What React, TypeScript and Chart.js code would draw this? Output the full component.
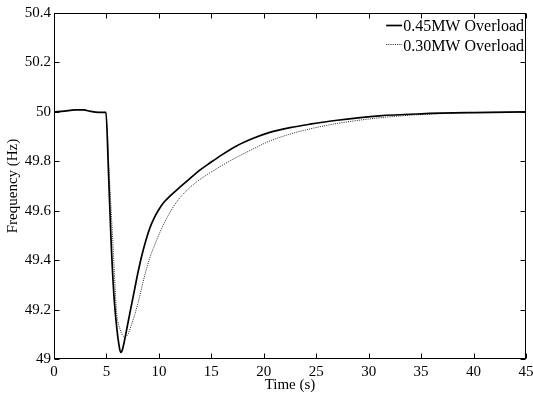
import React, { useEffect, useRef } from "react";
import { Chart, registerables } from "chart.js";

Chart.register(...registerables);

// ---- data ----
const t45 = [0, 1, 2, 2.8, 3.5, 4.2, 4.95, 5.2, 5.43, 5.71, 6.0, 6.2, 6.35, 6.5, 6.7, 7.0, 7.3, 7.7, 8.03, 8.5, 9.14, 9.6, 10.0, 10.5, 11.0, 12.0, 12.95, 14.0, 14.86, 16.0, 17.4, 19.0, 20.57, 22.5, 24.4, 27.0, 31.0, 35.0, 40.0, 45.0];
const f45 = [50.0, 50.003, 50.008, 50.008, 50.002, 49.998, 49.998, 49.75, 49.49, 49.26, 49.12, 49.055, 49.027, 49.035, 49.07, 49.135, 49.2, 49.285, 49.355, 49.44, 49.53, 49.575, 49.605, 49.635, 49.657, 49.695, 49.73, 49.767, 49.793, 49.826, 49.862, 49.893, 49.917, 49.936, 49.95, 49.966, 49.984, 49.992, 49.997, 50.0];

const t30 = [0, 1, 2, 2.8, 3.5, 4.2, 4.95, 5.25, 5.59, 5.97, 6.3, 6.55, 6.8, 7.05, 7.4, 7.7, 8.03, 8.6, 9.14, 9.78, 10.1, 10.8, 11.68, 12.8, 13.9, 15.5, 17.05, 18.8, 20.57, 22.5, 24.4, 27.0, 31.05, 35.0, 40.0, 45.0];
const f30 = [50.0, 50.003, 50.008, 50.008, 50.002, 49.998, 49.998, 49.76, 49.49, 49.19, 49.12, 49.095, 49.09, 49.1, 49.14, 49.18, 49.23, 49.33, 49.41, 49.48, 49.513, 49.574, 49.635, 49.688, 49.726, 49.77, 49.808, 49.846, 49.882, 49.91, 49.931, 49.953, 49.976, 49.989, 49.997, 50.0];

const seriesLabels = ["0.45MW Overload", "0.30MW Overload"];
const xTicks = [0, 5, 10, 15, 20, 25, 30, 35, 40, 45];
const yTicks = [49, 49.2, 49.4, 49.6, 49.8, 50, 50.2, 50.4];
const xTitle = "Time (s)";
const yTitle = "Frequency (Hz)";

const FAMILY = "'Liberation Serif', 'Times New Roman', serif";
const FONT = { family: FAMILY, size: 15 };

const boxPlugin = {
  id: "boxTicksLegend",
  afterDatasetsDraw(chart: any) {
    const { ctx, chartArea: a, scales } = chart;
    const L = Math.round(a.left) + 0.5;
    const R = Math.round(a.right) - 0.5;
    const T = Math.round(a.top) + 0.5;
    const B = Math.round(a.bottom) - 0.5;
    ctx.save();
    ctx.strokeStyle = "#000";
    ctx.lineWidth = 1;
    ctx.setLineDash([]);
    ctx.strokeRect(L, T, R - L, B - T);
    const tl = 5;
    ctx.beginPath();
    for (const v of xTicks) {
      const px = Math.round(scales.x.getPixelForValue(v)) + 0.5;
      ctx.moveTo(px, B);
      ctx.lineTo(px, B - tl);
      ctx.moveTo(px, T);
      ctx.lineTo(px, T + tl);
    }
    for (const v of yTicks) {
      const py = Math.round(scales.y.getPixelForValue(v)) + 0.5;
      ctx.moveTo(L, py);
      ctx.lineTo(L + tl, py);
      ctx.moveTo(R, py);
      ctx.lineTo(R - tl, py);
    }
    ctx.stroke();

    // legend (inside, top-right)
    ctx.font = `16px ${FAMILY}`;
    ctx.fillStyle = "#000";
    ctx.textBaseline = "middle";
    ctx.textAlign = "left";
    const widths = chart.data.datasets.map((d: any) => ctx.measureText(d.label).width);
    const maxW = Math.max(...widths);
    const textX = a.right - 2 - maxW;
    chart.data.datasets.forEach((d: any, i: number) => {
      const yText = a.top + 14 + i * 20;
      const yLine = Math.round(a.top + 12 + i * 19) + 0.5;
      ctx.strokeStyle = d.borderColor;
      ctx.lineWidth = d.borderWidth;
      ctx.setLineDash(d.borderDash || []);
      ctx.beginPath();
      ctx.moveTo(textX - 17, yLine);
      ctx.lineTo(textX - 1, yLine);
      ctx.stroke();
      ctx.setLineDash([]);
      ctx.fillText(d.label, textX, yText);
    });
    ctx.restore();
  },
};

export default function App() {
  const ref = useRef<HTMLCanvasElement | null>(null);
  useEffect(() => {
    if (!ref.current) return;
    const chart = new Chart(ref.current, {
      type: "line",
      data: {
        datasets: [
          {
            label: seriesLabels[0],
            data: t45.map((t, i) => ({ x: t, y: f45[i] })),
            borderColor: "#000",
            borderWidth: 1.7,
            pointRadius: 0,
            cubicInterpolationMode: "monotone",
            fill: false,
          },
          {
            label: seriesLabels[1],
            data: t30.map((t, i) => ({ x: t, y: f30[i] })),
            borderColor: "#222",
            borderWidth: 1,
            borderDash: [1, 1.2],
            pointRadius: 0,
            cubicInterpolationMode: "monotone",
            fill: false,
          },
        ],
      } as any,
      options: {
        animation: false,
        responsive: false,
        devicePixelRatio: 1,
        layout: { padding: { left: 0, right: 7, top: 13, bottom: 0 } },
        plugins: { legend: { display: false }, tooltip: { enabled: false } },
        scales: {
          x: {
            type: "linear",
            min: 0,
            max: 45,
            afterBuildTicks: (s: any) => {
              s.ticks = xTicks.map((v) => ({ value: v }));
            },
            ticks: {
              font: FONT,
              color: "#000",
              padding: 4,
              maxRotation: 0,
              autoSkip: false,
              callback: (v: any) => String(v),
            },
            grid: { display: false, drawTicks: false },
            border: { display: false },
            title: { display: true, text: xTitle, font: FONT, color: "#000", padding: 0 },
            afterFit: (s: any) => {
              s.height = 35;
              s.paddingLeft = 0;
              s.paddingRight = 0;
            },
          },
          y: {
            type: "linear",
            min: 49,
            max: 50.4,
            afterBuildTicks: (s: any) => {
              s.ticks = yTicks.map((v) => ({ value: v }));
            },
            ticks: {
              font: FONT,
              color: "#000",
              padding: 3,
              autoSkip: false,
              callback: (v: any) => String(Math.round(Number(v) * 10) / 10),
            },
            grid: { display: false, drawTicks: false },
            border: { display: false },
            title: { display: true, text: yTitle, font: FONT, color: "#000", padding: { top: 4, bottom: 0 } },
            afterFit: (s: any) => {
              s.width = 54;
              s.paddingTop = 0;
              s.paddingBottom = 0;
            },
          },
        },
      } as any,
      plugins: [boxPlugin],
    });
    return () => chart.destroy();
  }, []);
  return (
    <div style={{ position: "absolute", left: 0, top: 0, width: 533, height: 394, background: "#fff" }}>
      <canvas ref={ref} width={533} height={394} style={{ display: "block" }} />
    </div>
  );
}
